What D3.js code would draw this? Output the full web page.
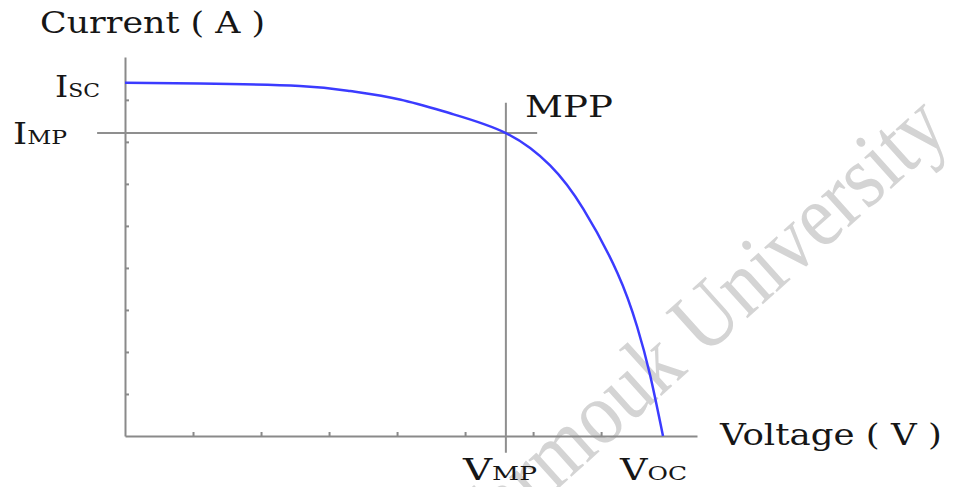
<!DOCTYPE html>
<html>
<head lang="en">
    <meta charset="UTF-8">
    <title>I-V curve</title>
    <script src="https://cdn.jsdelivr.net/npm/d3@7/dist/d3.min.js"></script>
    <style>
        body { margin: 0; background: #fff; }
    </style>
</head>
<body>
<div id="tu1"></div>
<script>
    // curve points (voltage, current)
    var voltage = [0, 1.10, 2.57, 3.31, 4.04, 4.78, 5.60, 6.25, 6.74, 7.24, 7.53, 7.72, 7.91];
    var current = [8.41, 8.39, 8.33, 8.21, 8.01, 7.68, 7.21, 6.44, 5.40, 3.88, 2.60, 1.45, 0];
    var xticks = [1, 2, 3, 4, 5, 6, 7];
    var yticks = [1, 2, 3, 4, 5, 6, 7, 8];
    var isc = 8.41, imp = 7.21, vmp = 5.60, voc = 7.91;

    var width = 974, height = 487;
    var svg = d3.select("#tu1").append("svg")
            .attr("width", width)
            .attr("height", height);

    // scales: origin at (125,436), 68px per volt, 42px per amp
    var x = d3.scaleLinear().domain([0, 8.41]).range([125, 697]);
    var y = d3.scaleLinear().domain([0, 9.02]).range([436, 57]);

    // watermark
    svg.append("text")
            .attr("transform", "translate(952,134) rotate(-42) scale(0.88,1)")
            .attr("text-anchor", "end")
            .attr("font-family", "Liberation Serif")
            .attr("font-size", 90)
            .attr("fill", "#d4d4d4")
            .text("Yarmouk University");

    // axes
    var xaxis = d3.axisBottom(x).tickValues(xticks).tickFormat("")
            .tickSizeInner(-4).tickSizeOuter(0);
    var yaxis = d3.axisLeft(y).tickValues(yticks).tickFormat("")
            .tickSizeInner(-4).tickSizeOuter(0);
    svg.append("g").attr("transform", "translate(0," + y(0) + ")").call(xaxis);
    svg.append("g").attr("transform", "translate(" + x(0) + ",0)").call(yaxis);
    svg.selectAll(".domain, .tick line")
            .attr("stroke", "#8a8a8a")
            .attr("stroke-width", 2);

    // MPP cross lines
    svg.append("line")
            .attr("x1", x(-0.41)).attr("x2", x(6.06))
            .attr("y1", y(imp)).attr("y2", y(imp))
            .attr("stroke", "#8f8f8f").attr("stroke-width", 2);
    svg.append("line")
            .attr("x1", x(vmp)).attr("x2", x(vmp))
            .attr("y1", y(7.93)).attr("y2", y(-0.40))
            .attr("stroke", "#8f8f8f").attr("stroke-width", 2);

    // I-V curve
    var line = d3.line()
            .x(function (d) { return x(d[0]); })
            .y(function (d) { return y(d[1]); })
            .curve(d3.curveNatural);
    svg.append("path")
            .attr("d", line(d3.zip(voltage, current)))
            .attr("fill", "none")
            .attr("stroke", "#3b3bff")
            .attr("stroke-width", 2.5);

    // labels: main text, subscript, left x, baseline y, width
    function label(main, sub, lx, by, w) {
        var t = svg.append("text")
                .attr("font-family", "DejaVu Serif")
                .attr("font-size", 29)
                .attr("fill", "#161616");
        t.append("tspan").text(main);
        if (sub) t.append("tspan").attr("font-size", 19).text(sub);
        var bw = t.node().getComputedTextLength();
        t.attr("transform", "translate(" + lx + "," + by + ") scale(" + (w / bw) + ",1)");
        return t;
    }
    label("Current ( A )", null, 40, 33, 225);
    label("I", "SC", 55, 97, 45);
    label("I", "MP", 13, 144, 54);
    label("MPP", null, 525, 117, 88);
    label("V", "MP", 463, 480, 74);
    label("V", "OC", 620, 480, 67);
    label("Voltage  ( V )", null, 720, 445, 222);
</script>
</body>
</html>
